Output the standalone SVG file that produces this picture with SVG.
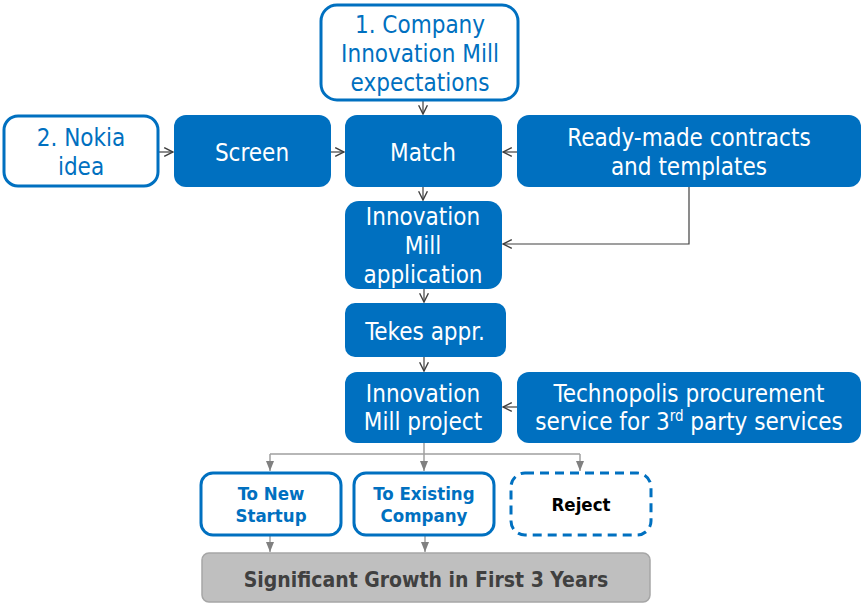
<svg xmlns="http://www.w3.org/2000/svg" width="861" height="604" viewBox="0 0 861 604">
<defs>
<marker id="open" viewBox="0 0 10 10" refX="9" refY="5" markerWidth="11" markerHeight="11" markerUnits="userSpaceOnUse" orient="auto">
<path d="M1,1 L9,5 L1,9" fill="none" stroke="#404040" stroke-width="1.3"/>
</marker>
<marker id="tri" viewBox="0 0 10 10" refX="10" refY="5" markerWidth="10" markerHeight="10" markerUnits="userSpaceOnUse" orient="auto">
<path d="M0,1 L10,5 L0,9 Z" fill="#808080"/>
</marker>
</defs>
<style>
.f{fill:#0070C0;stroke:none}
.o{fill:#fff;stroke:#0070C0;stroke-width:3}
.d{fill:#fff;stroke:#0070C0;stroke-width:3;stroke-dasharray:9 6}
.g{fill:#BFBFBF;stroke:#A6A6A6;stroke-width:1.5}
text{font-family:"DejaVu Sans Condensed","DejaVu Sans",sans-serif;text-anchor:middle}
.w{fill:#fff;font-size:24px}
.b{fill:#0070C0;font-size:24px}
.s{fill:#0070C0;font-size:18.5px;font-weight:bold}
.k{fill:#000;font-size:18.5px;font-weight:bold}
.gt{fill:#404040;font-size:21px;font-weight:bold}
.c{fill:none;stroke:#404040;stroke-width:1.2;marker-end:url(#open)}
.cg{fill:none;stroke:#A0A0A0;stroke-width:1.5}
.ca{fill:none;stroke:#A0A0A0;stroke-width:1.5;marker-end:url(#tri)}
</style>
<g id="connectors">
<path class="c" d="M158,152 H173"/>
<path class="c" d="M331,152 H344"/>
<path class="c" d="M517,152 H503"/>
<path class="c" d="M423,100 V114"/>
<path class="c" d="M423,187 V200"/>
<path class="c" d="M689,187 V244 H503"/>
<path class="c" d="M424,289 V302"/>
<path class="c" d="M424,357 V371"/>
<path class="c" d="M517,407 H503"/>
<path class="cg" d="M424,443 V454 M270,454 H580"/>
<path class="ca" d="M270,454 V471"/>
<path class="ca" d="M424,454 V471"/>
<path class="ca" d="M580,454 V471"/>
<path class="ca" d="M270,536 V552"/>
<path class="ca" d="M425,536 V552"/>
</g>
<g id="company">
<rect class="o" x="321" y="5" width="197" height="95" rx="16"/>
<text class="b" x="420" y="33">1. Company</text>
<text class="b" x="420" y="62">Innovation Mill</text>
<text class="b" x="420" y="91">expectations</text>
</g>
<g id="nokia">
<rect class="o" x="4" y="116" width="154" height="70" rx="14"/>
<text class="b" x="81" y="146">2. Nokia</text>
<text class="b" x="81" y="175">idea</text>
</g>
<g id="screen">
<rect class="f" x="174" y="115" width="157" height="72" rx="12"/>
<text class="w" x="252" y="161">Screen</text>
</g>
<g id="match">
<rect class="f" x="345" y="115" width="157" height="72" rx="12"/>
<text class="w" x="423" y="161">Match</text>
</g>
<g id="readymade">
<rect class="f" x="517" y="115" width="344" height="72" rx="12"/>
<text class="w" x="689" y="146">Ready-made contracts</text>
<text class="w" x="689" y="175">and templates</text>
</g>
<g id="application">
<rect class="f" x="345" y="201" width="157" height="88" rx="14"/>
<text class="w" x="423" y="225">Innovation</text>
<text class="w" x="423" y="254">Mill</text>
<text class="w" x="423" y="283">application</text>
</g>
<g id="tekes">
<rect class="f" x="345" y="303" width="161" height="54" rx="10"/>
<text class="w" x="425" y="340">Tekes appr.</text>
</g>
<g id="project">
<rect class="f" x="345" y="372" width="157" height="71" rx="12"/>
<text class="w" x="423" y="402">Innovation</text>
<text class="w" x="423" y="430">Mill project</text>
</g>
<g id="technopolis">
<rect class="f" x="517" y="372" width="344" height="71" rx="12"/>
<text class="w" x="689" y="402">Technopolis procurement</text>
<text class="w" x="689" y="430">service for 3<tspan font-size="15" dy="-9">rd</tspan><tspan dy="9"> party services</tspan></text>
</g>
<g id="newstartup">
<rect class="o" x="201" y="473" width="140" height="62" rx="12"/>
<text class="s" x="271" y="500">To New</text>
<text class="s" x="271" y="522">Startup</text>
</g>
<g id="existing">
<rect class="o" x="354" y="473" width="140" height="62" rx="12"/>
<text class="s" x="424" y="500">To Existing</text>
<text class="s" x="424" y="522">Company</text>
</g>
<g id="reject">
<rect class="d" x="511" y="473" width="140" height="62" rx="14"/>
<text class="k" x="581" y="511">Reject</text>
</g>
<g id="growth">
<rect class="g" x="202" y="553" width="448" height="49" rx="7"/>
<text class="gt" x="426" y="587">Significant Growth in First 3 Years</text>
</g>
</svg>
